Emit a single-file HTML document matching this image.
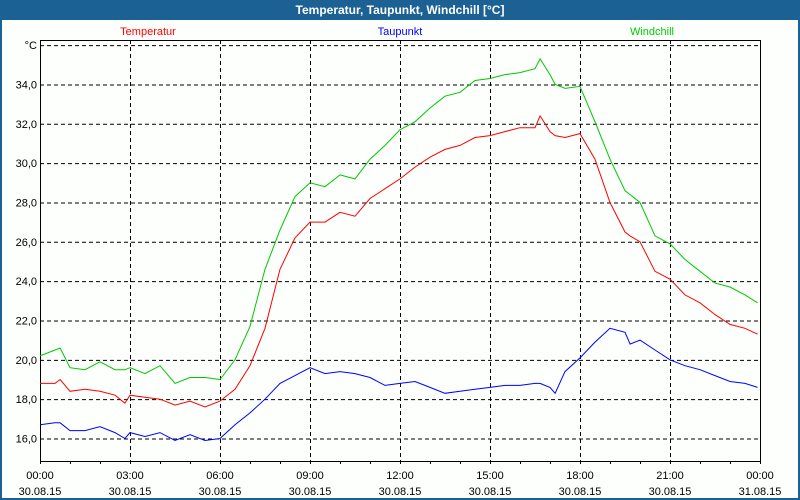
<!DOCTYPE html>
<html><head><meta charset="utf-8"><style>
body{margin:0;width:800px;height:500px;overflow:hidden;background:#1c6194;font-family:"Liberation Sans",sans-serif}
#win{position:absolute;left:2px;top:20px;width:796px;height:478px;background:#fcfffc}
#title{position:absolute;left:0;top:0;width:800px;height:20px;line-height:20px;text-align:center;color:#fff;font-weight:bold;font-size:12px}
svg{position:absolute;left:0;top:0}
</style></head><body>
<div id="title">Temperatur, Taupunkt, Windchill [°C]</div>
<div id="win"></div>
<svg id="chart" width="800" height="500" font-family="Liberation Sans, sans-serif" font-size="11"></svg>
<script>
const times=[0,0.5,0.67,1,1.5,2,2.5,2.83,3,3.5,4,4.5,5,5.5,6,6.5,7,7.5,8,8.5,9,9.5,10,10.5,11,11.5,12,12.5,13,13.5,14,14.5,15,15.5,16,16.5,16.67,17,17.17,17.5,18,18.5,19,19.5,19.67,20,20.5,21,21.5,22,22.5,23,23.5,23.92];
const temperatur=[18.8,18.8,19.0,18.4,18.5,18.4,18.2,17.8,18.2,18.1,18.0,17.7,17.9,17.6,17.9,18.5,19.7,21.6,24.6,26.2,27.0,27.0,27.5,27.3,28.2,28.7,29.2,29.8,30.3,30.7,30.9,31.3,31.4,31.6,31.8,31.8,32.4,31.6,31.4,31.3,31.5,30.2,28.0,26.5,26.3,26.0,24.5,24.1,23.3,22.9,22.3,21.8,21.6,21.3];
const taupunkt=[16.7,16.8,16.8,16.4,16.4,16.6,16.3,16.0,16.3,16.1,16.3,15.9,16.2,15.9,16.0,16.7,17.3,18.0,18.8,19.2,19.6,19.3,19.4,19.3,19.1,18.7,18.8,18.9,18.6,18.3,18.4,18.5,18.6,18.7,18.7,18.8,18.8,18.6,18.3,19.4,20.1,20.9,21.6,21.4,20.8,21.0,20.5,20.0,19.7,19.5,19.2,18.9,18.8,18.6];
const windchill=[20.2,20.5,20.6,19.6,19.5,19.9,19.5,19.5,19.6,19.3,19.7,18.8,19.1,19.1,19.0,20.0,21.7,24.6,26.6,28.3,29.0,28.8,29.4,29.2,30.2,30.9,31.7,32.1,32.8,33.4,33.6,34.2,34.3,34.5,34.6,34.8,35.3,34.5,34.0,33.8,33.9,32.1,30.2,28.6,28.4,28.0,26.3,25.9,25.1,24.5,23.9,23.7,23.3,22.9];
const yTicks=[16,18,20,22,24,26,28,30,32,34];
const xTickHours=[0,3,6,9,12,15,18,21,24];
const xTickTimes=["00:00","03:00","06:00","09:00","12:00","15:00","18:00","21:00","00:00"];
const xTickDates=["30.08.15","30.08.15","30.08.15","30.08.15","30.08.15","30.08.15","30.08.15","30.08.15","31.08.15"];
const X0=40,X1=760,Y0=40,Y1=461;
const xs=h=>X0+h*(X1-X0)/24;
const ys=v=>438.5-(v-16)*19.67;
const svg=document.getElementById('chart');
const NS='http://www.w3.org/2000/svg';
function mk(t,a,p){const e=document.createElementNS(NS,t);for(const k in a)e.setAttribute(k,a[k]);(p||svg).appendChild(e);return e;}
yTicks.concat([36]).forEach(v=>{
 const l=mk('line',{x1:X0,x2:X1,y1:ys(v)+0.5,y2:ys(v)+0.5,stroke:'#000','stroke-dasharray':'4,3'});
 
 
});
xTickHours.slice(1,-1).forEach(h=>{
 const l=mk('line',{x1:xs(h)+0.5,x2:xs(h)+0.5,y1:Y0,y2:Y1,stroke:'#000','stroke-dasharray':'4,3'});
 
 
});
const fr=mk('rect',{x:X0+0.5,y:Y0+0.5,width:X1-X0,height:Y1-Y0,fill:'none',stroke:'#000'});


for(let h=0;h<=24;h++){
 const t=mk('line',{x1:xs(h)+0.5,x2:xs(h)+0.5,y1:Y1,y2:Y1+3,stroke:'#000'});
 
 
}
yTicks.forEach(v=>{
 const t=mk('text',{x:37,y:ys(v)+4,'text-anchor':'end',fill:'#000'});
 t.textContent=v.toFixed(1).replace('.',',');
 
 
});
const u=mk('text',{x:37,y:ys(36)+4,'text-anchor':'end',fill:'#000'});u.textContent='°C';


xTickHours.forEach((h,i)=>{
 const a=mk('text',{x:xs(h),y:479,'text-anchor':'middle',fill:'#000'});a.textContent=xTickTimes[i];
 
 
 const b=mk('text',{x:xs(h),y:495,'text-anchor':'middle',fill:'#000'});b.textContent=xTickDates[i];
 
 
});
[["Temperatur","#f00",148],["Taupunkt","#00f",400],["Windchill","#0c0",652]].forEach(d=>{
 const t=mk('text',{x:d[2],y:35,'text-anchor':'middle',fill:d[1]});t.textContent=d[0];
 
 
});
[[windchill,'#00c800','windchill-line'],[temperatur,'#f00','temperatur-line'],[taupunkt,'#00f','taupunkt-line']].forEach(s=>{
 const pts=times.map((h,i)=>xs(h).toFixed(1)+','+ys(s[0][i]).toFixed(1)).join(' ');
 const p=mk('polyline',{points:pts,fill:'none',stroke:s[1],'stroke-width':1});
 
 
});
</script>
</body></html>
